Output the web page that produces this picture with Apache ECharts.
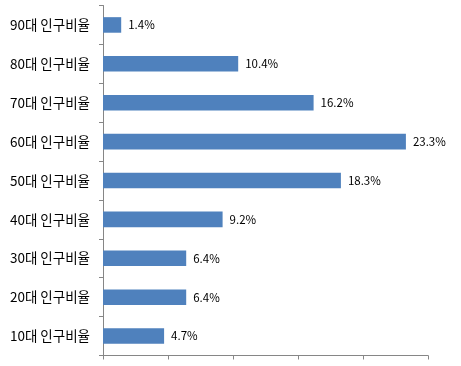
<!DOCTYPE html>
<html>
<head>
<meta charset="utf-8">
<script src="https://cdn.jsdelivr.net/npm/echarts@6/dist/echarts.min.js"></script>
<style>
  html, body { margin: 0; padding: 0; background: #fff; }
  #chart { width: 461px; height: 366px; }
</style>
</head>
<body>
<div id="chart"></div>
<script>
// bottom to top, as the axis draws them
const categories = ['10대 인구비율', '20대 인구비율', '30대 인구비율', '40대 인구비율', '50대 인구비율',
  '60대 인구비율', '70대 인구비율', '80대 인구비율', '90대 인구비율'];
const ratios = [4.7, 6.4, 6.4, 9.2, 18.3, 23.3, 16.2, 10.4, 1.4];

const axisGray = '#868686';
const font = '"Noto Sans CJK KR", "Noto Sans", sans-serif';

const chart = echarts.init(document.getElementById('chart'));
chart.setOption({
  animation: false,
  grid: { left: 103, right: 33, top: 5.5, bottom: 10.5, containLabel: false },
  xAxis: {
    type: 'value',
    min: 0,
    max: 25,
    interval: 5,
    axisLine: { show: true, lineStyle: { color: axisGray, width: 1 } },
    axisTick: { show: true, length: 4, lineStyle: { color: axisGray } },
    axisLabel: { show: false },
    splitLine: { show: false }
  },
  yAxis: {
    type: 'category',
    data: categories,
    axisLine: { show: true, lineStyle: { color: axisGray, width: 1 } },
    axisTick: { show: true, length: 4, lineStyle: { color: axisGray } },
    axisLabel: { color: '#000', fontSize: 13.5, fontFamily: font, margin: 13 }
  },
  series: [{
    type: 'bar',
    data: ratios,
    barWidth: '40%',
    itemStyle: { color: '#4F81BD' },
    label: {
      show: true,
      position: 'right',
      distance: 7,
      color: '#000',
      fontSize: 11.5,
      fontFamily: font,
      formatter: p => p.value.toFixed(1) + '%'
    }
  }]
});
</script>
</body>
</html>
